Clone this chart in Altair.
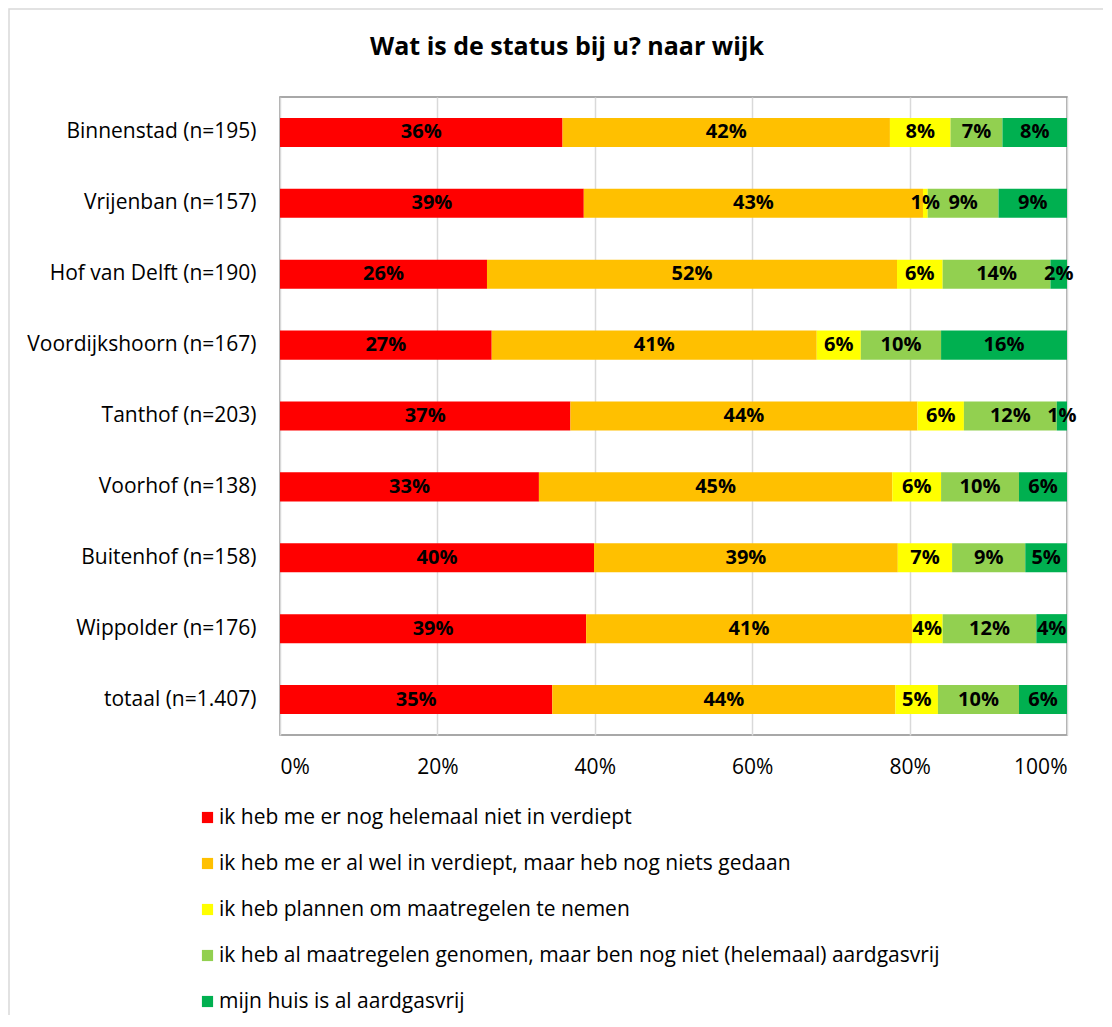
import altair as alt
import pandas as pd

wijken = ["Binnenstad (n=195)", "Vrijenban (n=157)", "Hof van Delft (n=190)",
          "Voordijkshoorn (n=167)", "Tanthof (n=203)", "Voorhof (n=138)",
          "Buitenhof (n=158)", "Wippolder (n=176)", "totaal (n=1.407)"]

categories = ["ik heb me er nog helemaal niet in verdiept",
              "ik heb me er al wel in verdiept, maar heb nog niets gedaan",
              "ik heb plannen om maatregelen te nemen",
              "ik heb al maatregelen genomen, maar ben nog niet (helemaal) aardgasvrij",
              "mijn huis is al aardgasvrij"]

colors = ["#FF0000", "#FFC000", "#FFFF00", "#92D050", "#00B050"]

niet_verdiept = [35.9, 38.6, 26.3, 26.9, 36.9, 32.9, 39.9, 38.9, 34.6]
wel_verdiept = [41.6, 43.1, 52.1, 41.3, 44.1, 44.9, 38.6, 41.4, 43.6]
plannen = [7.7, 0.6, 5.8, 5.6, 5.9, 6.2, 6.9, 3.9, 5.4]
maatregelen = [6.6, 9.0, 13.7, 10.2, 11.8, 9.9, 9.3, 11.9, 10.3]
aardgasvrij = [8.2, 8.7, 2.1, 16.0, 1.3, 6.1, 5.3, 3.9, 6.1]

series = [niet_verdiept, wel_verdiept, plannen, maatregelen, aardgasvrij]

rows = []
for ci, (cat, vals) in enumerate(zip(categories, series)):
    for w, v in zip(wijken, vals):
        rows.append({"wijk": w, "cat": cat, "order": ci, "value": v,
                     "label": f"{round(v):d}%"})
df = pd.DataFrame(rows)

title_text = "Wat is de status bij u? naar wijk"

FONT = "Open Sans"
FS = 21

base = alt.Chart(df).transform_stack(
    stack="value", groupby=["wijk"], as_=["x0", "x1"],
    sort=[alt.SortField("order", order="ascending")]
).transform_calculate(mid="(datum.x0 + datum.x1) / 2")

yenc = alt.Y("wijk:N", sort=wijken, title=None,
             scale=alt.Scale(paddingInner=0.59, paddingOuter=0.295),
             axis=alt.Axis(labelFontSize=FS, labelFont=FONT, labelColor="#000000",
                           labelPadding=24, labelLimit=400, ticks=False, domain=False,
                           grid=False))

bars = base.mark_bar().encode(
    x=alt.X("x0:Q", scale=alt.Scale(domain=[0, 100]), title=None,
            axis=alt.Axis(values=[0, 20, 40, 60, 80, 100], labelExpr="datum.value + '%'",
                          labelFontSize=FS, labelFont=FONT, labelColor="#000000",
                          labelPadding=21, ticks=False, domain=False,
                          grid=True, gridColor="#d9d9d9", gridWidth=1.5)),
    x2="x1:Q",
    y=yenc,
    color=alt.Color("cat:N", sort=categories,
                    scale=alt.Scale(domain=categories, range=colors),
                    legend=alt.Legend(title=None, orient="none", legendX=-83, legendY=710,
                                      direction="vertical", symbolType="square",
                                      symbolSize=125, symbolStrokeWidth=0,
                                      labelFontSize=FS, labelFont=FONT, labelColor="#000000",
                                      rowPadding=24, labelOffset=1, labelLimit=900)),
)

texts = base.mark_text(fontSize=20, fontWeight="bold", font=FONT, color="#000000").encode(
    x="mid:Q", y=alt.Y("wijk:N", sort=wijken), text="label:N")

single = pd.DataFrame({"t": [title_text]})

frame = alt.Chart(single).mark_rect(
    fill=None, stroke="#d9d9d9", strokeWidth=1.5, clip=False
).encode(x=alt.value(-271), x2=alt.value(840), y=alt.value(-88), y2=alt.value(950))

title = alt.Chart(single).mark_text(
    fontSize=25, font=FONT, fontWeight="bold", color="#000000",
    align="center", baseline="middle", clip=False
).encode(x=alt.value(287), y=alt.value(-50), text="t:N")

chart = alt.layer(frame, bars, texts, title).properties(
    width=787, height=638,
    padding={"left": 272, "top": 89, "right": 36, "bottom": 280},
    autosize=alt.AutoSizeParams(type="none"),
).configure_view(stroke="#8c8c8c", strokeWidth=1.5)

chart.save("out.html", embed_options={"renderer": "svg", "actions": False})
